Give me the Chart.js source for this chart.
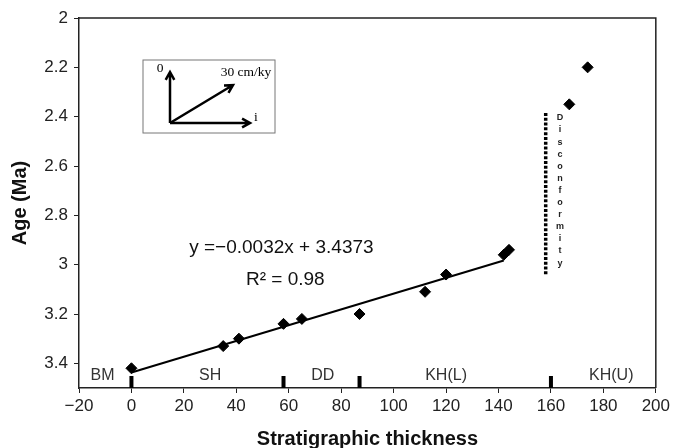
<!DOCTYPE html>
<html>
<head>
<meta charset="utf-8">
<script src="https://cdn.jsdelivr.net/npm/chart.js@4.4.1/dist/chart.umd.min.js"></script>
<style>
  html, body { margin: 0; padding: 0; background: #fff; }
  #wrap { width: 673px; height: 448px; }
</style>
</head>
<body>
<div id="wrap"><canvas id="ageChart"></canvas></div>
<script>
// age vs. stratigraphic thickness samples
const thickness = [0, 35, 41, 58, 65, 87, 112, 120, 142, 144, 167, 174];
const ages = [3.42, 3.33, 3.30, 3.24, 3.22, 3.20, 3.11, 3.04, 2.96, 2.94, 2.35, 2.20];

// linear fit drawn through the lower section
const trendX = [0, 142];
const trendY = [3.437, 2.983];

// disconformity marker
const gapX = [158, 158];
const gapY = [2.385, 3.04];

// formation boundaries and names along the base
const boundaries = [0, 58, 87, 160];
const unitNames = ['BM', 'SH', 'DD', 'KH(L)', 'KH(U)'];
const unitCentres = [-11, 30, 73, 120, 183];

const xTicks = [-20, 0, 20, 40, 60, 80, 100, 120, 140, 160, 180, 200];
const yTicks = [2, 2.2, 2.4, 2.6, 2.8, 3, 3.2, 3.4];

const toPoints = (xs, ys) => xs.map((x, i) => ({ x: x, y: ys[i] }));

function arrow(ctx, x0, y0, x1, y1) {
    const a = Math.atan2(y1 - y0, x1 - x0);
    const h = 9;
    ctx.beginPath();
    ctx.moveTo(x0, y0);
    ctx.lineTo(x1, y1);
    ctx.moveTo(x1 - h * Math.cos(a - 0.5), y1 - h * Math.sin(a - 0.5));
    ctx.lineTo(x1, y1);
    ctx.lineTo(x1 - h * Math.cos(a + 0.5), y1 - h * Math.sin(a + 0.5));
    ctx.stroke();
}

// extra drawing: frame, formation ticks/labels, equation, inset, vertical text
const decorations = {
    id: 'decorations',
    afterDatasetsDraw(chart) {
        const { ctx, chartArea: ca, scales: { x, y } } = chart;
        ctx.save();

        // top + right frame lines
        ctx.strokeStyle = '#222';
        ctx.lineWidth = 1.5;
        ctx.beginPath();
        ctx.moveTo(ca.left, ca.top);
        ctx.lineTo(ca.right, ca.top);
        ctx.lineTo(ca.right, ca.bottom);
        ctx.stroke();

        // formation boundary bars
        ctx.fillStyle = '#000';
        boundaries.forEach(b => {
            const px = x.getPixelForValue(b);
            ctx.fillRect(px - 2, ca.bottom - 12, 4, 12);
        });

        // formation names
        ctx.font = '16px "Liberation Sans", Arial, sans-serif';
        ctx.fillStyle = '#333';
        ctx.textAlign = 'center';
        ctx.textBaseline = 'middle';
        const yLab = y.getPixelForValue(3.45);
        unitNames.forEach((n, i) => ctx.fillText(n, x.getPixelForValue(unitCentres[i]), yLab));

        // regression text
        ctx.fillStyle = '#111';
        ctx.font = '19px "Liberation Sans", Arial, sans-serif';
        ctx.fillText('y =\u22120.0032x + 3.4373', x.getPixelForValue(57.2), y.getPixelForValue(2.933));
        ctx.fillText('R\u00B2 = 0.98', x.getPixelForValue(58.7), y.getPixelForValue(3.063));

        // vertical "Disconformity"
        ctx.fillStyle = '#222';
        ctx.font = 'bold 9px "Liberation Sans", Arial, sans-serif';
        const letters = 'Disconformity'.split('');
        const lx = x.getPixelForValue(163.5);
        let ly = y.getPixelForValue(2.405);
        letters.forEach(ch => { ctx.fillText(ch, lx, ly); ly += 12.1; });

        // inset sketch
        const bx = ca.left + 64, by = ca.top + 42;
        ctx.strokeStyle = '#777';
        ctx.lineWidth = 1;
        ctx.strokeRect(bx, by, 132, 73);
        ctx.strokeStyle = '#000';
        ctx.lineWidth = 2.5;
        const ox = bx + 27, oy = by + 63;
        arrow(ctx, ox, oy, bx + 27, by + 12);
        arrow(ctx, ox, oy, bx + 107, by + 63);
        arrow(ctx, ox, oy, bx + 90, by + 25);
        ctx.fillStyle = '#000';
        ctx.font = '13.5px "Liberation Serif", "Times New Roman", serif';
        ctx.fillText('0', bx + 17, by + 8);
        ctx.fillText('30 cm/ky', bx + 103, by + 12);
        ctx.fillText('i', bx + 113, by + 57);

        ctx.restore();
    }
};

const tickFont = { family: '"Liberation Sans", Arial, sans-serif', size: 17 };
const titleFont = { family: '"Liberation Sans", Arial, sans-serif', size: 20, weight: 'bold' };

new Chart(document.getElementById('ageChart'), {
    type: 'scatter',
    data: {
        datasets: [
            {
                label: 'Samples',
                data: toPoints(thickness, ages),
                pointStyle: 'rectRot',
                pointRadius: 5.5,
                backgroundColor: '#000',
                borderColor: '#000',
                order: 1
            },
            {
                label: 'Fit',
                type: 'line',
                data: toPoints(trendX, trendY),
                borderColor: '#000',
                borderWidth: 2,
                pointRadius: 0,
                fill: false,
                order: 2
            },
            {
                label: 'Disconformity',
                type: 'line',
                data: toPoints(gapX, gapY),
                borderColor: '#000',
                borderWidth: 3.5,
                borderDash: [3, 1.8],
                pointRadius: 0,
                fill: false,
                order: 3
            }
        ]
    },
    options: {
        responsive: true,
        maintainAspectRatio: false,
        animation: false,
        layout: { padding: { top: 18, right: 16, left: 8, bottom: 0 } },
        plugins: { legend: { display: false }, tooltip: { enabled: false } },
        scales: {
            x: {
                type: 'linear',
                min: -20,
                max: 200,
                afterBuildTicks: s => { s.ticks = xTicks.map(v => ({ value: v })); },
                afterFit: s => { s.height = 60; },
                ticks: {
                    color: '#222',
                    font: tickFont,
                    padding: 3,
                    maxRotation: 0,
                    callback: v => String(v).replace('-', '\u2212')
                },
                grid: { drawOnChartArea: false, tickLength: 5, color: '#222' },
                border: { color: '#222', width: 1.5 },
                title: {
                    display: true,
                    text: 'Stratigraphic thickness',
                    color: '#111',
                    font: titleFont,
                    padding: { top: 3, bottom: -3 }
                }
            },
            y: {
                type: 'linear',
                reverse: true,
                min: 2,
                max: 3.5,
                afterBuildTicks: s => { s.ticks = yTicks.map(v => ({ value: v })); },
                afterFit: s => { s.width = 71; },
                ticks: {
                    color: '#222',
                    font: tickFont,
                    padding: 6,
                    callback: v => String(+v.toFixed(1))
                },
                grid: { drawOnChartArea: false, tickLength: 5, color: '#222' },
                border: { color: '#222', width: 1.5 },
                title: {
                    display: true,
                    text: 'Age (Ma)',
                    color: '#111',
                    font: titleFont,
                    padding: 0
                }
            }
        }
    },
    plugins: [decorations]
});
</script>
</body>
</html>
